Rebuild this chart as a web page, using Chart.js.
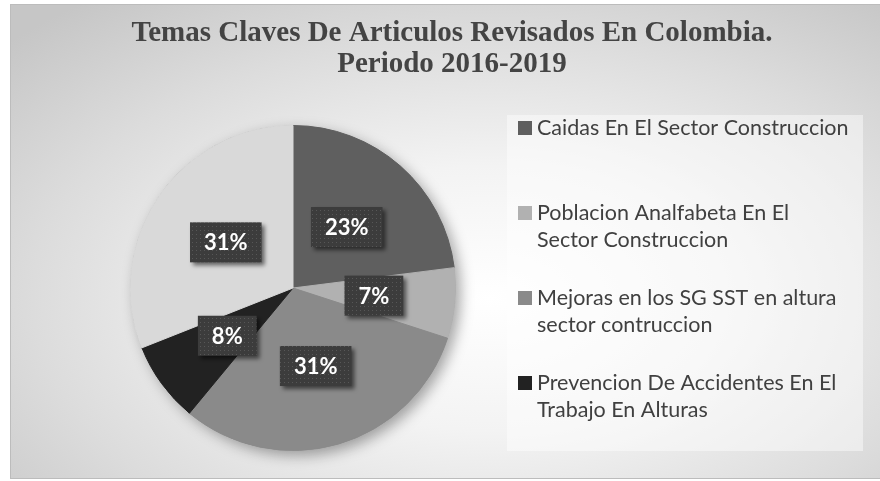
<!DOCTYPE html>
<html lang="es">
<head>
<meta charset="utf-8">
<title>Temas Claves De Articulos Revisados En Colombia</title>
<script src="https://cdn.jsdelivr.net/npm/chart.js@4.4.1/dist/chart.umd.min.js"></script>
<style>
    html, body { margin: 0; padding: 0; background: #ffffff; }
    #wrap {
        position: absolute;
        left: 10px;
        top: 4px;
        width: 872px;
        height: 475px;
        box-sizing: border-box;
        border: 1px solid #bcbcbc;
        background: radial-gradient(ellipse 75% 80% at 55% 62%, #ffffff 0%, #f3f3f3 35%, #dcdcdc 70%, #c6c6c6 100%);
    }
    #chart { display: block; }
</style>
</head>
<body>
<div id="wrap"><canvas id="chart" width="870" height="473"></canvas></div>
<script>
// Datos del grafico
const titleLines = ['Temas Claves De Articulos Revisados En Colombia.', 'Periodo 2016-2019'];
const categories = [
    ['Caidas En El Sector Construccion'],
    ['Poblacion Analfabeta En El', 'Sector Construccion'],
    ['Mejoras en los SG SST en altura', 'sector contruccion'],
    ['Prevencion De Accidentes En El', 'Trabajo En Alturas'],
    ['']
];
const percentages = [23, 7, 31, 8, 31];
const sliceColors = ['#5f5f5f', '#b1b1b1', '#8a8a8a', '#222222', '#d9d9d9'];
const legendCount = 4; // el quinto item queda fuera del recuadro de la leyenda

// Patron punteado para las etiquetas
function makeDotPattern(ctx) {
    const tile = document.createElement('canvas');
    tile.width = 4;
    tile.height = 4;
    const t = tile.getContext('2d');
    t.fillStyle = '#3c3c3c';
    t.fillRect(0, 0, 4, 4);
    t.fillStyle = '#575757';
    t.fillRect(1, 1, 1, 1);
    return ctx.createPattern(tile, 'repeat');
}

// Titulo
const titlePlugin = {
    id: 'customTitle',
    afterDraw(chart) {
        const ctx = chart.ctx;
        ctx.save();
        ctx.font = 'bold 29px "Liberation Serif", "Times New Roman", serif';
        ctx.fillStyle = '#444444';
        ctx.textAlign = 'center';
        ctx.textBaseline = 'alphabetic';
        titleLines.forEach((line, i) => {
            ctx.fillText(line, 441, 36 + i * 31);
        });
        ctx.restore();
    }
};

// Sombra debajo del pastel
const shadowPlugin = {
    id: 'pieShadow',
    beforeDatasetsDraw(chart) {
        const arc = chart.getDatasetMeta(0).data[0];
        if (!arc) return;
        const ctx = chart.ctx;
        ctx.save();
        ctx.shadowColor = 'rgba(0, 0, 0, 0.35)';
        ctx.shadowBlur = 14;
        ctx.shadowOffsetX = 5;
        ctx.shadowOffsetY = 5;
        ctx.fillStyle = '#888888';
        ctx.beginPath();
        ctx.arc(arc.x, arc.y, arc.outerRadius, 0, Math.PI * 2);
        ctx.fill();
        ctx.restore();
    }
};

// Etiquetas de porcentaje
const labelPlugin = {
    id: 'pctLabels',
    afterDatasetsDraw(chart) {
        const ctx = chart.ctx;
        const pattern = makeDotPattern(ctx);
        const meta = chart.getDatasetMeta(0);
        ctx.save();
        ctx.font = 'bold 22px Lato, "Open Sans", sans-serif';
        ctx.textAlign = 'center';
        ctx.textBaseline = 'middle';
        meta.data.forEach((arc, i) => {
            const pos = arc.tooltipPosition();
            const text = percentages[i] + '%';
            const w = ctx.measureText(text).width + 28;
            const h = 40;
            ctx.save();
            ctx.shadowColor = 'rgba(0, 0, 0, 0.55)';
            ctx.shadowBlur = 4;
            ctx.shadowOffsetX = 3;
            ctx.shadowOffsetY = 3;
            ctx.fillStyle = pattern;
            ctx.fillRect(pos.x - w / 2, pos.y - h / 2, w, h);
            ctx.restore();
            ctx.fillStyle = '#ffffff';
            ctx.fillText(text, pos.x, pos.y + 1);
        });
        ctx.restore();
    }
};

// Leyenda a la derecha
const legendPlugin = {
    id: 'sideLegend',
    afterDraw(chart) {
        const ctx = chart.ctx;
        const x0 = 496, y0 = 110, w = 356, h = 336;
        ctx.save();
        ctx.fillStyle = 'rgba(255, 255, 255, 0.45)';
        ctx.fillRect(x0, y0, w, h);
        ctx.font = '21.5px Lato, "Open Sans", sans-serif';
        ctx.textBaseline = 'middle';
        ctx.textAlign = 'left';
        let y = 123;
        for (let i = 0; i < legendCount; i++) {
            const lines = chart.data.labels[i];
            ctx.fillStyle = chart.data.datasets[0].backgroundColor[i];
            ctx.fillRect(507, y - 7, 14, 14);
            ctx.fillStyle = '#404040';
            lines.forEach((line, j) => {
                ctx.fillText(line, 526, y + j * 27);
            });
            y += 85;
        }
        ctx.restore();
    }
};

const ctx = document.getElementById('chart').getContext('2d');
new Chart(ctx, {
    type: 'pie',
    data: {
        labels: categories,
        datasets: [{
            data: percentages,
            backgroundColor: sliceColors,
            borderColor: sliceColors,
            borderWidth: 1
        }]
    },
    options: {
        responsive: false,
        animation: false,
        layout: {
            padding: { left: 119, right: 425, top: 120, bottom: 27 }
        },
        plugins: {
            legend: { display: false },
            title: { display: false },
            tooltip: { enabled: false }
        }
    },
    plugins: [shadowPlugin, labelPlugin, legendPlugin, titlePlugin]
});
</script>
</body>
</html>
